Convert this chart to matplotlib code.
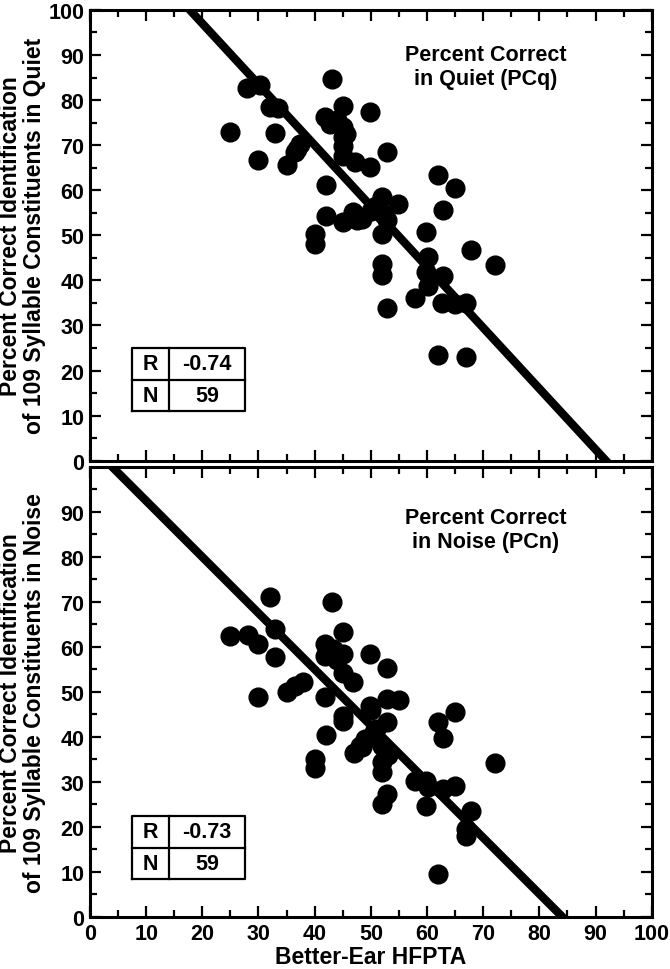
import matplotlib
matplotlib.use("Agg")
import matplotlib.pyplot as plt
import numpy as np

plt.rcParams["font.family"] = ["Liberation Sans Narrow", "Liberation Sans", "DejaVu Sans"]
plt.rcParams["font.weight"] = "bold"

# better-ear HFPTA vs percent correct in quiet (PCq)
quiet_x = [24.9, 27.9, 30.2, 30.0, 32.0, 33.5, 32.9, 35.0, 36.5, 36.8,
           37.4, 43.0, 41.8, 42.7, 45.1, 45.1, 45.1, 45.1, 45.1, 47.2,
           49.8, 49.8, 52.8, 42.0, 42.0, 40.0, 40.0, 45.1, 46.9, 48.4,
           51.9, 51.0, 54.9, 52.2, 52.8, 51.9, 51.9, 51.9, 52.8, 62.0,
           65.0, 62.9, 59.8, 67.9, 72.1, 60.2, 59.9, 60.2, 62.9, 57.8,
           62.6, 65.0, 67.0, 62.0, 67.0, 50.0, 45.5, 47.5, 44.0]
quiet_y = [73.0, 82.6, 83.4, 66.8, 78.4, 78.2, 72.7, 65.5, 68.4, 69.2,
           70.2, 84.7, 76.2, 74.7, 78.8, 74.0, 71.8, 69.9, 67.7, 66.2,
           77.4, 65.1, 68.4, 61.2, 54.4, 50.3, 48.1, 52.9, 55.1, 53.6,
           58.4, 56.6, 57.0, 54.7, 53.3, 50.3, 43.6, 41.2, 33.8, 63.4,
           60.4, 55.6, 50.8, 46.8, 43.4, 45.1, 41.8, 38.8, 41.0, 36.0,
           35.1, 34.8, 35.0, 23.5, 22.9, 55.5, 72.5, 53.5, 75.5]

# same listeners, percent correct in noise (PCn)
noise_x = [25.0, 28.2, 30.0, 30.0, 32.0, 33.0, 33.0, 35.0, 36.5, 38.0,
           40.0, 40.0, 41.8, 41.8, 41.8, 42.0, 43.0, 43.3, 45.1, 45.1,
           45.1, 46.9, 45.1, 45.0, 47.0, 48.5, 49.8, 49.8, 50.0, 50.1,
           52.8, 52.8, 55.0, 52.8, 51.0, 51.9, 51.9, 51.9, 52.8, 51.9,
           57.8, 59.9, 60.2, 59.9, 62.0, 62.9, 62.9, 65.0, 65.0, 67.9,
           67.0, 67.0, 72.1, 62.0, 50.5, 53.0, 49.0, 44.0, 48.0]
noise_y = [62.5, 62.6, 60.6, 48.8, 71.1, 64.0, 57.7, 49.9, 51.4, 52.1,
           35.0, 33.0, 60.6, 58.0, 48.8, 40.5, 70.0, 59.5, 63.4, 58.4,
           54.3, 52.3, 44.7, 43.5, 36.5, 37.8, 58.4, 46.9, 40.0, 46.0,
           55.2, 48.4, 48.3, 43.2, 41.7, 38.0, 34.4, 32.1, 27.3, 25.1,
           30.3, 30.3, 28.8, 24.7, 43.2, 39.7, 28.4, 29.2, 45.6, 23.6,
           19.5, 18.0, 34.2, 9.5, 41.0, 36.0, 39.5, 57.0, 38.0]

# regression lines (slope, intercept)
quiet_fit = (-1.35, 124.0)
noise_fit = (-1.247, 104.9)

panel_titles = ["Percent Correct\nin Quiet (PCq)", "Percent Correct\nin Noise (PCn)"]
ylabels = ["Percent Correct Identification\nof 109 Syllable Constituents in Quiet",
           "Percent Correct Identification\nof 109 Syllable Constituents in Noise"]
stats_r = ["-0.74", "-0.73"]
stats_n = ["59", "59"]

FS = 15.5

fig = plt.figure(figsize=(6.7, 9.7), dpi=100)
ax_top = fig.add_axes([0.1343, 0.524, 0.8384, 0.4647])
ax_bot = fig.add_axes([0.1343, 0.0536, 0.8384, 0.4642])


def style_axes(ax):
    ax.set_xlim(0, 100)
    ax.set_ylim(0, 100)
    ax.set_xticks(np.arange(0, 101, 10))
    ax.set_xticks(np.arange(5, 100, 10), minor=True)
    ax.set_yticks(np.arange(0, 101, 10))
    ax.set_yticks(np.arange(5, 100, 10), minor=True)
    ax.tick_params(which="both", direction="in", top=True, right=True,
                   width=1.6, labelsize=FS, pad=4)
    ax.tick_params(which="major", length=8)
    ax.tick_params(which="minor", length=5)
    for s in ax.spines.values():
        s.set_linewidth(2.2)


def stats_box(ax, r, n, y0):
    x0, x1, x2 = 0.074, 0.140, 0.276
    h = 0.07
    kw = dict(transform=ax.transAxes, color="black", lw=1.6, clip_on=False)
    ax.plot([x0, x2, x2, x0, x0], [y0, y0, y0 + 2 * h, y0 + 2 * h, y0], **kw)
    ax.plot([x0, x2], [y0 + h, y0 + h], **kw)
    ax.plot([x1, x1], [y0, y0 + 2 * h], **kw)
    tkw = dict(transform=ax.transAxes, ha="center", va="center",
               fontsize=FS, fontweight="bold")
    ax.text((x0 + x1) / 2, y0 + 1.5 * h, "R", **tkw)
    ax.text((x1 + x2) / 2, y0 + 1.5 * h, r, **tkw)
    ax.text((x0 + x1) / 2, y0 + 0.5 * h, "N", **tkw)
    ax.text((x1 + x2) / 2, y0 + 0.5 * h, n, **tkw)


xs = np.array([0, 100])
panels = [(ax_top, quiet_x, quiet_y, quiet_fit, 0.11, 87.5),
          (ax_bot, noise_x, noise_y, noise_fit, 0.084, 86.0)]
for i, (ax, x, y, fit, box_y, ty) in enumerate(panels):
    style_axes(ax)
    ax.plot(xs, fit[0] * xs + fit[1], color="black", lw=6, solid_capstyle="butt")
    ax.plot(x, y, "o", color="black", ms=13.5, mec="black")
    ax.text(70.5, ty, panel_titles[i], ha="center", va="center",
            fontsize=FS, fontweight="bold", linespacing=1.2)
    ax.set_ylabel(ylabels[i], fontsize=16.5, fontweight="bold",
                  linespacing=1.05)
    ax.yaxis.set_label_coords(-0.078, 0.5)
    stats_box(ax, stats_r[i], stats_n[i], box_y)

ax_top.tick_params(labelbottom=False)
ax_bot.set_yticks(np.arange(0, 91, 10))
ax_bot.set_xlabel("Better-Ear HFPTA", fontsize=16.5, fontweight="bold", labelpad=1)

fig.savefig("out.png", dpi=100)
